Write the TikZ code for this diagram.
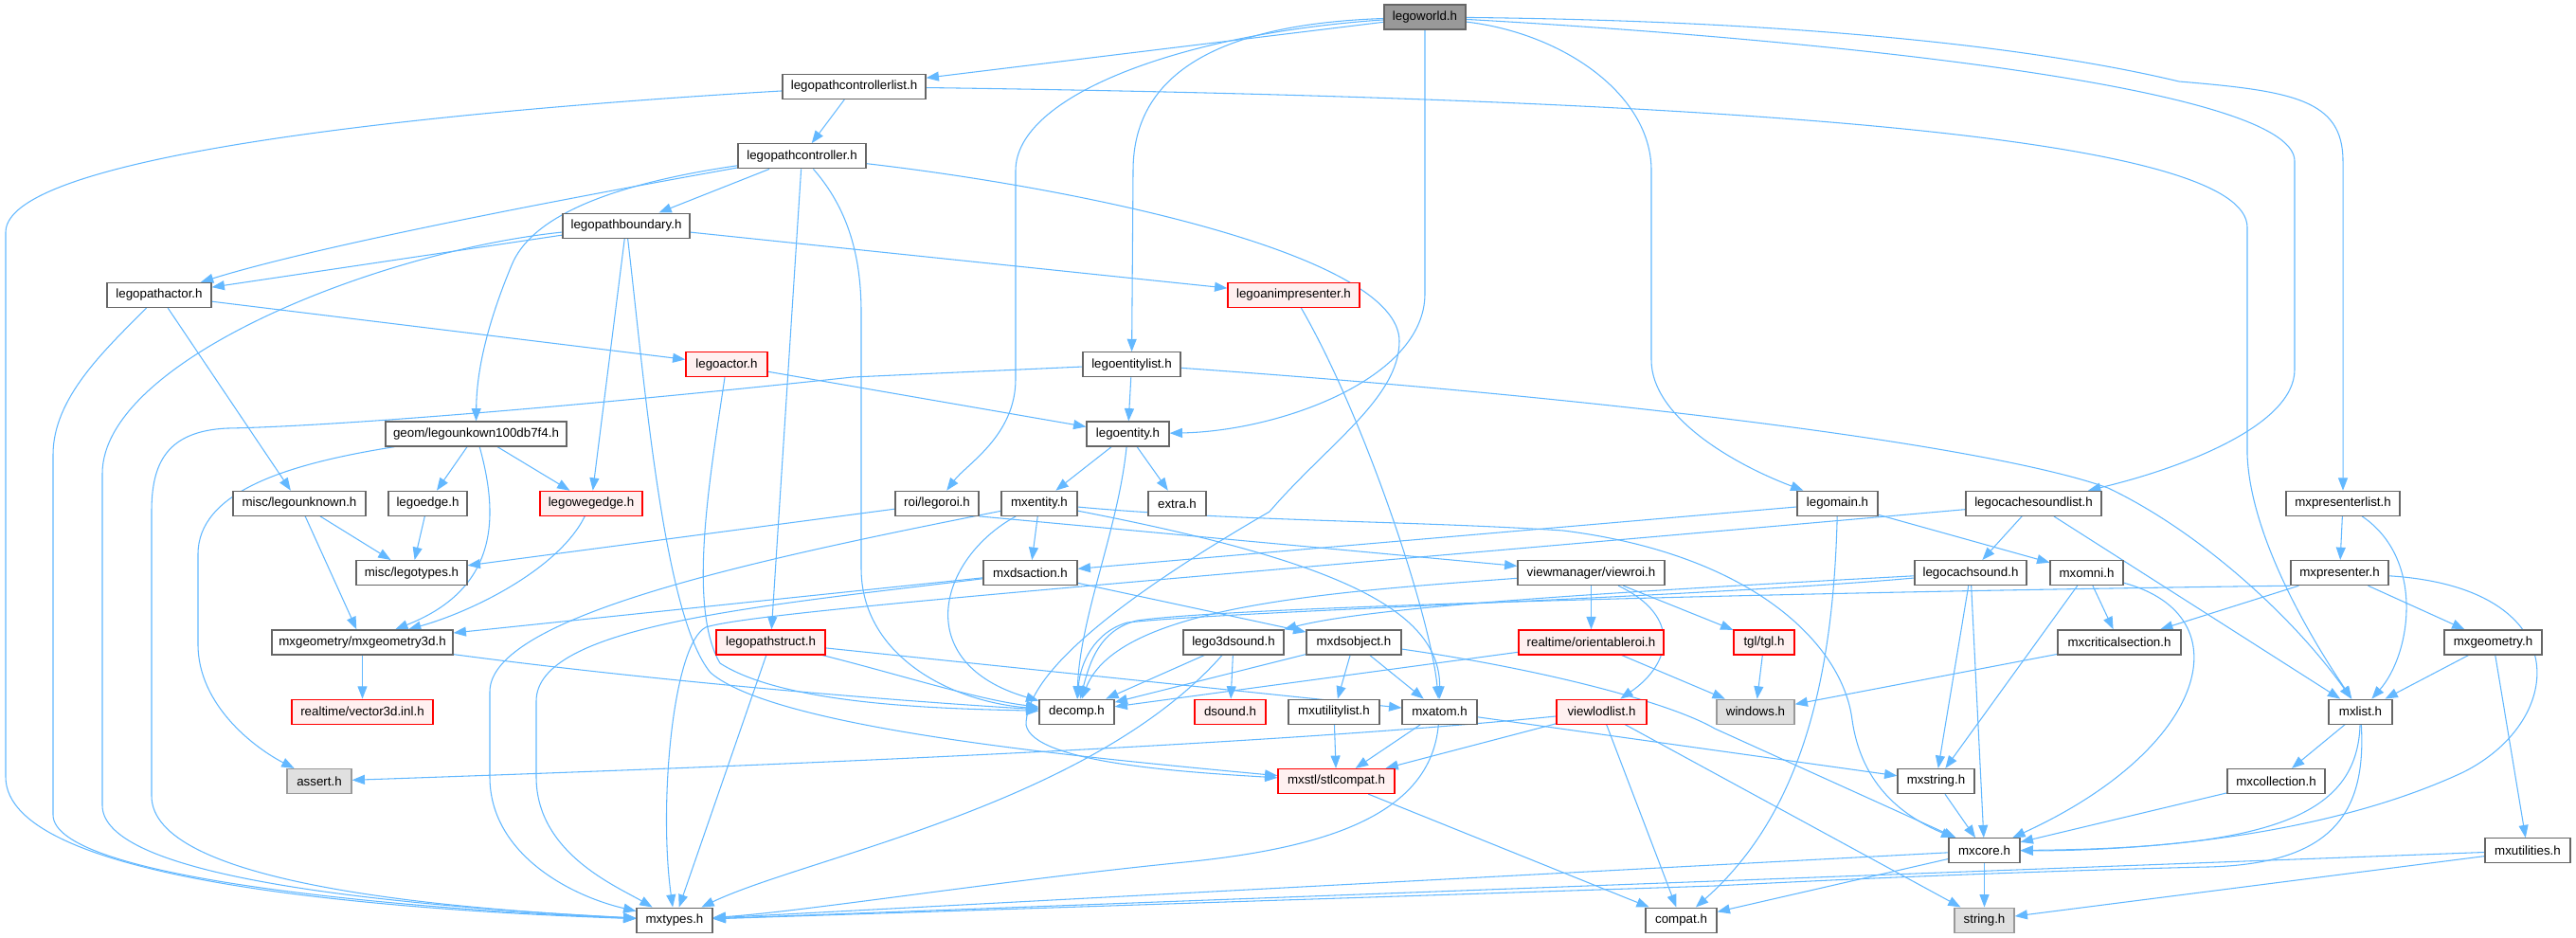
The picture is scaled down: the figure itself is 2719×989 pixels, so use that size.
\documentclass[tikz,border=0pt]{standalone}
\usepackage{fontspec}
\setmainfont{Liberation Sans}
\usetikzlibrary{arrows.meta}
\pgfdeclarelayer{bg}
\pgfsetlayers{bg,main}
\definecolor{edgec}{HTML}{63B8FF}
\definecolor{nbord}{HTML}{666666}
\definecolor{rootf}{HTML}{999999}
\definecolor{redb}{HTML}{FF0000}
\definecolor{redf}{HTML}{FFF0F0}
\definecolor{grayf}{HTML}{E0E0E0}
\definecolor{grayb}{HTML}{999999}
\begin{document}
\begin{tikzpicture}[x=0.75pt,y=-0.75pt,
  nd/.style={draw=nbord, fill=white, line width=0.9pt, inner sep=0pt,
             minimum height=26*0.75pt, font=\fontsize{10}{12}\selectfont, text=black},
  rootn/.style={nd, fill=rootf},
  redn/.style={nd, draw=redb, fill=redf},
  grayn/.style={nd, draw=grayb, fill=grayf},
  bw/.style={minimum width=#1*0.75pt},
  e/.style={draw=edgec, line width=0.8pt, -{Triangle[length=10pt,width=7.5pt]}}]
\useasboundingbox (0,0) rectangle (2719,989);

% ---------- nodes ----------
\node[rootn,bw=86] (world) at (1504,18) {legoworld.h};
\node[nd,bw=151] (pcl) at (901.5,91.5) {legopathcontrollerlist.h};
\node[nd,bw=135] (pc) at (846.5,164.8) {legopathcontroller.h};
\node[nd,bw=134] (pb) at (661,238.1) {legopathboundary.h};
\node[nd,bw=110] (pa) at (168,311.4) {legopathactor.h};
\node[redn,bw=139] (anim) at (1365.5,311.4) {legoanimpresenter.h};
\node[redn,bw=86] (actor) at (767,384.7) {legoactor.h};
\node[nd,bw=103] (elist) at (1194.5,384.7) {legoentitylist.h};
\node[nd,bw=191] (geom) at (502.5,458) {geom/legounkown100db7f4.h};
\node[nd,bw=87] (entity) at (1190.5,458) {legoentity.h};

\node[nd,bw=140] (unk) at (316,531.3) {misc/legounknown.h};
\node[nd,bw=83] (ledge) at (451.5,531.3) {legoedge.h};
\node[redn,bw=108] (lwe) at (624,531.3) {legowegedge.h};
\node[nd,bw=88] (roi) at (989,531.3) {roi/legoroi.h};
\node[nd,bw=80] (mxent) at (1097,531.3) {mxentity.h};
\node[nd,bw=61] (extra) at (1242.5,531.3) {extra.h};
\node[nd,bw=85] (lmain) at (1939.5,531.3) {legomain.h};
\node[nd,bw=143] (lcsl) at (2146.5,531.3) {legocachesoundlist.h};
\node[nd,bw=120] (mpl) at (2473,531.3) {mxpresenterlist.h};

\node[nd,bw=117] (ltypes) at (434.5,604.6) {misc/legotypes.h};
\node[nd,bw=99] (dsact) at (1087.5,604.6) {mxdsaction.h};
\node[nd,bw=155] (vroi) at (1679.5,604.6) {viewmanager/viewroi.h};
\node[nd,bw=118] (lcs) at (2080,604.6) {legocachsound.h};
\node[nd,bw=77] (omni) at (2202.5,604.6) {mxomni.h};
\node[nd,bw=103] (mpres) at (2469.5,604.6) {mxpresenter.h};

\node[nd,bw=191] (g3d) at (382.5,677.9) {mxgeometry/mxgeometry3d.h};
\node[redn,bw=115] (lps) at (813.5,677.9) {legopathstruct.h};
\node[nd,bw=106] (l3d) at (1302,677.9) {lego3dsound.h};
\node[nd,bw=100] (dsobj) at (1429,677.9) {mxdsobject.h};
\node[redn,bw=153] (oroi) at (1679.5,677.9) {realtime/orientableroi.h};
\node[redn,bw=64] (tgl) at (1862,677.9) {tgl/tgl.h};
\node[nd,bw=130] (crit) at (2237,677.9) {mxcriticalsection.h};
\node[nd,bw=103] (mgeo) at (2631.5,677.9) {mxgeometry.h};

\node[redn,bw=149] (v3d) at (382.5,751.2) {realtime/vector3d.inl.h};
\node[nd,bw=79] (decomp) at (1136.5,751.2) {decomp.h};
\node[redn,bw=75] (dsound) at (1298.5,751.2) {dsound.h};
\node[nd,bw=96] (utl) at (1408,751.2) {mxutilitylist.h};
\node[nd,bw=79] (atom) at (1519.5,751.2) {mxatom.h};
\node[redn,bw=95] (vll) at (1690.5,751.2) {viewlodlist.h};
\node[grayn,bw=82] (win) at (1853,751.2) {windows.h};
\node[nd,bw=67] (mlist) at (2491.5,751.2) {mxlist.h};

\node[grayn,bw=68] (assert) at (337,824.5) {assert.h};
\node[redn,bw=123] (stl) at (1410.5,824.5) {mxstl/stlcompat.h};
\node[nd,bw=81] (mstr) at (2043.5,824.5) {mxstring.h};
\node[nd,bw=103] (mcoll) at (2402.5,824.5) {mxcollection.h};

\node[nd,bw=75] (core) at (2094.5,897.8) {mxcore.h};
\node[nd,bw=90] (mutil) at (2668,897.8) {mxutilities.h};

\node[nd,bw=80] (types) at (712,971.1) {mxtypes.h};
\node[nd,bw=75] (compat) at (1774.5,971.1) {compat.h};
\node[grayn,bw=63] (str) at (2094.5,971.1) {string.h};

% ---------- edges ----------
\begin{pgfonlayer}{bg}
% legoworld.h
\draw[e] (world) -- (pcl);
\draw[e] (world) .. controls (1300,25) and (1196,70) .. (1196,180) -- (elist);
\draw[e] (world) .. controls (1250,35) and (1072,100) .. (1072,180) -- (1072,400) .. controls (1072,460) and (1020,490) .. (roi);
\draw[e] (world) -- (1504,310) .. controls (1504,400) and (1350,455) .. (entity);
\draw[e] (world) .. controls (1650,35) and (1743,100) .. (1743,180) -- (1743,380) .. controls (1743,440) and (1830,490) .. (lmain);
\draw[e] (world) .. controls (1900,40) and (2422,90) .. (2422,170) -- (2422,390) .. controls (2422,450) and (2300,495) .. (lcsl);
\draw[e] (world) .. controls (1900,22) and (2150,50) .. (2300,86) .. controls (2420,96) and (2473,105) .. (2473,170) -- (mpl);
% legopathcontrollerlist.h
\draw[e] (pcl) -- (pc);
\draw[e] (pcl) .. controls (1900,105) and (2372,150) .. (2372,240) -- (2372,480) .. controls (2375,560) and (2430,660) .. (mlist);
\draw[e] (pcl) .. controls (500,115) and (6,160) .. (6,245) -- (6,820) .. controls (6,930) and (400,960) .. (types);
% legopathcontroller.h
\draw[e] (pc) .. controls (650,200) and (350,255) .. (pa);
\draw[e] (pc) .. controls (640,195) and (560,230) .. (540,280) .. controls (515,340) and (503,390) .. (geom);
\draw[e] (pc) -- (pb);
\draw[e] (pc) -- (lps);
\draw[e] (pc) .. controls (895,220) and (909,270) .. (909,330) -- (909,600) .. controls (909,690) and (1000,740) .. (decomp);
\draw[e] (pc) .. controls (1150,200) and (1477,270) .. (1477,360) .. controls (1477,420) and (1400,470) .. (1340,540) .. controls (1150,650) and (1083,720) .. (1083,765) .. controls (1090,805) and (1250,815) .. (stl);
% legopathboundary.h
\draw[e] (pb) -- (pa);
\draw[e] (pb) -- (lwe);
\draw[e] (pb) .. controls (680,400) and (700,650) .. (750,710) .. controls (820,770) and (1150,800) .. (stl);
\draw[e] (pb) -- (anim);
\draw[e] (pb) .. controls (400,265) and (108,380) .. (108,500) -- (108,850) .. controls (108,925) and (400,955) .. (types);
% legopathactor.h
\draw[e] (pa) -- (actor);
\draw[e] (pa) -- (unk);
\draw[e] (pa) .. controls (110,370) and (56,420) .. (56,480) -- (56,860) .. controls (56,925) and (400,958) .. (types);
% legoanimpresenter.h
\draw[e] (anim) .. controls (1440,440) and (1510,650) .. (atom);
% legoactor.h
\draw[e] (actor) -- (entity);
\draw[e] (actor) .. controls (750,500) and (725,640) .. (760,700) .. controls (830,745) and (1000,748) .. (decomp);
% legoentitylist.h
\draw[e] (elist) -- (entity);
\draw[e] (elist) .. controls (1700,420) and (2100,470) .. (2225,515) .. controls (2320,560) and (2420,650) .. (mlist);
\draw[e] (elist) -- (900,398) .. controls (600,430) and (350,450) .. (240,452) .. controls (175,455) and (160,490) .. (160,540) -- (160,840) .. controls (160,930) and (450,958) .. (types);
% geom
\draw[e] (geom) .. controls (300,490) and (209,520) .. (209,585) -- (209,680) .. controls (209,745) and (270,790) .. (assert);
\draw[e] (geom) -- (ledge);
\draw[e] (geom) -- (lwe);
\draw[e] (geom) .. controls (525,540) and (530,620) .. (g3d);
% legoentity.h
\draw[e] (entity) -- (mxent);
\draw[e] (entity) .. controls (1180,560) and (1140,650) .. (decomp);
\draw[e] (entity) -- (extra);
% row 7
\draw[e] (unk) -- (ltypes);
\draw[e] (unk) -- (g3d);
\draw[e] (ledge) -- (ltypes);
\draw[e] (lwe) .. controls (590,600) and (500,645) .. (g3d);
\draw[e] (roi) -- (ltypes);
\draw[e] (roi.south east) -- (vroi);
\draw[e] (mxent) -- (dsact);
\draw[e] (mxent) .. controls (990,590) and (960,700) .. (decomp);
\draw[e] (mxent) .. controls (1400,590) and (1520,640) .. (atom);
\draw[e] (mxent) .. controls (1300,550) and (1500,550) .. (1650,560) .. controls (1850,585) and (1945,680) .. (1955,760) .. controls (1965,830) and (2010,862) .. (core);
\draw[e] (mxent) .. controls (800,590) and (517,650) .. (517,730) -- (517,820) .. controls (517,900) and (600,945) .. (types);
\draw[e] (lmain) .. controls (1935,720) and (1900,860) .. (compat);
\draw[e] (lmain) -- (dsact);
\draw[e] (lmain) -- (omni);
\draw[e] (lcsl) -- (lcs);
\draw[e] (lcsl) -- (mlist);
\draw[e] (lcsl) .. controls (1200,615) and (800,645) .. (745,662) .. controls (710,680) and (695,850) .. (types);
\draw[e] (mpl) -- (mpres);
\draw[e] (mpl) .. controls (2560,590) and (2545,690) .. (mlist);
% row 8
\draw[e] (dsact) -- (dsobj);
\draw[e] (dsact) -- (g3d);
\draw[e] (dsact) .. controls (800,640) and (566,660) .. (566,740) -- (566,820) .. controls (566,900) and (650,935) .. (types);
\draw[e] (vroi) -- (oroi);
\draw[e] (vroi) .. controls (1775,650) and (1765,700) .. (vll);
\draw[e] (vroi) -- (tgl);
\draw[e] (vroi) .. controls (1400,625) and (1180,640) .. (decomp);
\draw[e] (lcs) -- (mstr);
\draw[e] (lcs) -- (core);
\draw[e] (lcs) .. controls (1700,625) and (1450,640) .. (l3d);
\draw[e] (lcs) .. controls (1800,630) and (1300,645) .. (1190,657) .. controls (1155,667) and (1140,700) .. (decomp);
\draw[e] (omni) -- (crit);
\draw[e] (omni) -- (mstr);
\draw[e] (omni) .. controls (2370,650) and (2330,790) .. (core);
\draw[e] (mpres) -- (crit);
\draw[e] (mpres) -- (mgeo);
\draw[e] (mpres) .. controls (2720,620) and (2710,760) .. (2600,815) .. controls (2450,885) and (2250,898) .. (core);
\draw[e] (mpres.south west) .. controls (1900,625) and (1300,640) .. (1200,655) .. controls (1160,665) and (1150,700) .. (decomp);
% row 9
\draw[e] (g3d) -- (v3d);
\draw[e] (g3d) .. controls (700,720) and (950,740) .. (decomp);
\draw[e] (lps) -- (types);
\draw[e] (lps) -- (atom);
\draw[e] (lps) .. controls (950,712) and (1030,738) .. (decomp);
\draw[e] (l3d) -- (decomp);
\draw[e] (l3d) -- (dsound);
\draw[e] (l3d) .. controls (1150,850) and (850,905) .. (types);
\draw[e] (dsobj) -- (decomp);
\draw[e] (dsobj) -- (utl);
\draw[e] (dsobj) -- (atom);
\draw[e] (dsobj) .. controls (1620,705) and (1760,740) .. (1810,769) -- (core);
\draw[e] (oroi) -- (decomp);
\draw[e] (oroi) -- (win);
\draw[e] (tgl) -- (win);
\draw[e] (crit) -- (win);
\draw[e] (mgeo) -- (mlist);
\draw[e] (mgeo) -- (mutil);
% row 10
\draw[e] (utl) -- (stl);
\draw[e] (atom) -- (stl);
\draw[e] (atom) -- (mstr);
\draw[e] (atom) .. controls (1510,860) and (1400,895) .. (1250,910) .. controls (1050,930) and (850,962) .. (types);
\draw[e] (vll) .. controls (1300,790) and (700,812) .. (assert);
\draw[e] (vll) -- (stl);
\draw[e] (vll) -- (compat);
\draw[e] (vll) -- (str);
\draw[e] (mlist) -- (mcoll);
\draw[e] (mlist) .. controls (2488,860) and (2400,895) .. (core);
\draw[e] (mlist) .. controls (2498,860) and (2460,912) .. (2330,915) .. controls (2200,918) and (2000,925) .. (1810,935) -- (types);
% row 11 and below
\draw[e] (stl) -- (compat);
\draw[e] (mstr) -- (core);
\draw[e] (mcoll) -- (core);
\draw[e] (core) -- (compat);
\draw[e] (core) -- (str);
\draw[e] (core) -- (types);
\draw[e] (mutil) -- (str);
\draw[e] (mutil) -- (types);
\end{pgfonlayer}
\end{tikzpicture}
\end{document}
